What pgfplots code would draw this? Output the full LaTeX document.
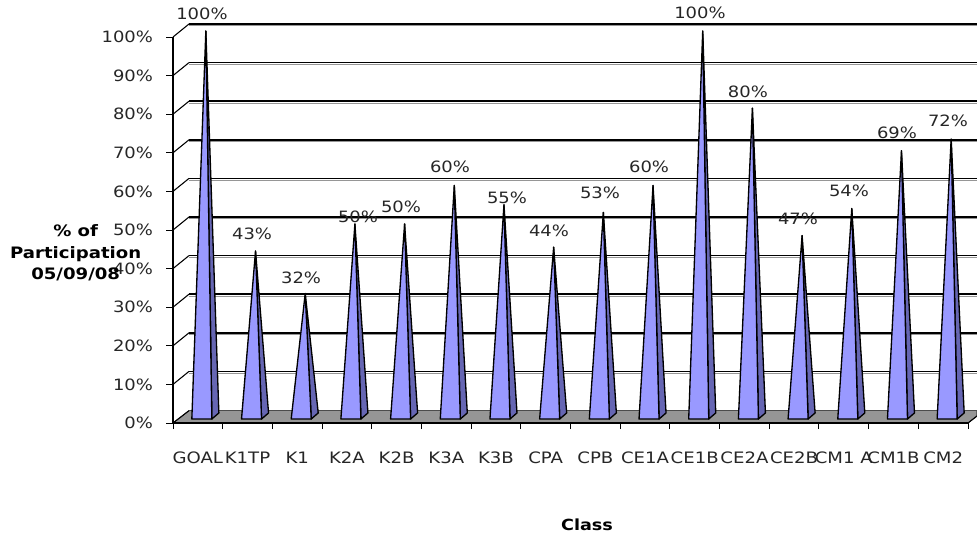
\documentclass[border=0pt]{standalone}
\usepackage{fontspec}
\setmainfont[FakeStretch=1.15]{DejaVu Sans}
\usepackage{pgfplots}
\pgfplotsset{compat=1.18}
\definecolor{front}{HTML}{9999FF}
\definecolor{side}{HTML}{6666B3}
\definecolor{floorg}{HTML}{969696}
\newcommand{\spike}[2]{%
  \pgfmathsetmacro{\xa}{#1-0.121}%
  \pgfmathsetmacro{\xb}{#1+0.282}%
  \pgfmathsetmacro{\xc}{#1+0.423}%
  \pgfmathsetmacro{\xd}{#1+0.161}%
  \pgfmathsetmacro{\yd}{#2+1.55}%
  \addplot[draw=black,line width=1pt,fill=side,line join=round] coordinates {(\xb,1.04) (\xc,2.6) (\xd,\yd)} -- cycle;
  \addplot[draw=black,line width=1pt,fill=front,line join=round] coordinates {(\xa,1.04) (\xb,1.04) (\xd,\yd)} -- cycle;
}
\begin{document}
\begin{tikzpicture}
\path[use as bounding box] (-129.75pt,-85.5pt) rectangle (603pt,317.25pt);
\begin{axis}[
  scale only axis, width=596.25pt, height=289.5pt,
  at={(0pt,0pt)}, anchor=south west,
  xmin=-0.5, xmax=15.5, ymin=0, ymax=100,
  clip=false,
  axis x line*=bottom, axis y line*=left,
  axis line style={black,line width=1.2pt},
  xtick={0,...,15}, xticklabels={GOAL,K1TP,K1,K2A,K2B,K3A,K3B,CPA,CPB,CE1A,CE1B,CE2A,CE2B,CM1 A,CM1B,CM2},
  minor xtick={-0.5,0.5,...,15.5},
  ytick={0,10,...,100}, yticklabels={0\%,10\%,20\%,30\%,40\%,50\%,60\%,70\%,80\%,90\%,100\%},
  tick style={black,line width=0.7pt},
  major x tick style={draw=none},
  minor tick length=4.5pt, major tick length=5pt,
  tick align=outside,
  xticklabel style={font=\fontsize{11.8}{13}\selectfont, yshift=-13pt, text=black!85},
  yticklabel style={font=\fontsize{11.7}{13}\selectfont, xshift=-6.5pt, text=black!85},
]
% floor
\addplot[fill=floorg,draw=black,line width=0.5pt] coordinates {(-0.5,0) (-0.178,3.2) (15.68,3.2) (15.68,1.8) (15.5,0)} -- cycle;
% back wall grid and side wall lines
\pgfplotsinvokeforeach{10,20,...,100}{
  \draw[floorg,line width=0.8pt] (axis cs:-0.178,{#1+3.37-0.5}) -- (axis cs:15.68,{#1+3.37-0.5});
  \draw[black,line width=1.1pt] (axis cs:-0.178,{#1+3.37}) -- (axis cs:15.68,{#1+3.37});
  \draw[black,line width=0.8pt] (axis cs:-0.5,#1) -- (axis cs:-0.178,{#1+3.37});
}
\draw[black,line width=0.8pt] (axis cs:-0.5,0) -- (axis cs:-0.178,3.2);
\draw[black,line width=1.4pt] (axis cs:-0.5,0) -- (axis cs:15.5,0);
\draw[black,line width=0.8pt] (axis cs:15.5,0) -- (axis cs:15.68,1.8);
\spike{0}{100}
\spike{1}{43}
\spike{2}{32}
\spike{3}{50}
\spike{4}{50}
\spike{5}{60}
\spike{6}{55}
\spike{7}{44}
\spike{8}{53}
\spike{9}{60}
\spike{10}{100}
\spike{11}{80}
\spike{12}{47}
\spike{13}{54}
\spike{14}{69}
\spike{15}{72}
% the values and their labels
\addplot[draw=none, only marks, mark=none,
  /pgf/number format/assume math mode=true,
  visualization depends on={\thisrow{dx} \as \ldx},
  visualization depends on={\thisrow{dy} \as \ldy},
  nodes near coords={\pgfmathprintnumber{\pgfplotspointmeta}\%},
  point meta=explicit,
  every node near coord/.style={anchor=center, xshift=\ldx pt, yshift=\ldy pt, font=\fontsize{11.7}{13}\selectfont, text=black!85}]
  table[meta=y] {
x y dx dy
0 100 3.1 17.25
1 43 3.4 17.25
2 32 2.9 16.1
3 50 8.3 9.75
4 50 3.3 17.25
5 60 2.8 18.3
6 55 8.25 9.5
7 44 2.5 16.6
8 53 3.5 19
9 60 3 18.3
10 100 3.9 18
11 80 2.6 16.6
12 47 2.9 17
13 54 3.9 17.7
14 69 2.6 17.8
15 72 3.6 18.1
};
\end{axis}
\node[align=center,font=\bfseries\fontsize{11.8}{16}\selectfont,anchor=center] at (-73pt,127.5pt) {\% of\\Participation\\05/09/08};
\node[font=\bfseries\fontsize{11.5}{12}\selectfont,anchor=center] at (310.5pt,-76pt) {Class};
\end{tikzpicture}
\end{document}
